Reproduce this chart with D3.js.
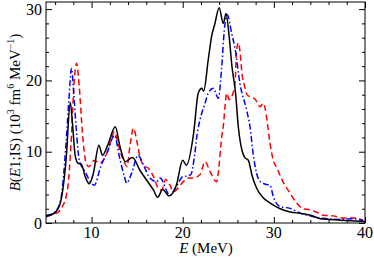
<!DOCTYPE html>
<html><head><meta charset="utf-8">
<script src="https://cdn.jsdelivr.net/npm/d3@7/dist/d3.min.js"></script>
<style>body{margin:0;background:#fff}svg{display:block}</style>
</head><body><svg id="c" width="374" height="258" font-family="'Liberation Serif', 'Times New Roman', Times, serif"></svg>
<script>
const blackE=[5.0,6.1,6.65,7.2,7.67,7.9,8.2,8.5,8.9,9.3,9.75,10.2,10.8,11.2,11.8,12.6,13.1,13.7,14.5,15.3,16.05,16.8,17.25,17.8,18.5,19.3,20.0,20.4,21.2,21.7,22.1,22.3,22.8,23.2,23.5,24.0,24.45,24.75,25.1,25.4,25.8,26.1,26.5,26.8,27.2,27.6,28.1,28.85,29.6,30.7,31.8,32.9,34.0,35.1,37.3,40.0];
const blackB=[0.9,1.6,3.2,8.8,16.9,14.0,9.5,8.4,8.2,6.5,5.5,7.0,10.9,9.5,11.0,13.5,10.8,8.6,9.2,7.4,6.0,4.6,3.6,4.7,3.8,5.3,8.8,8.1,12.6,18.2,18.9,18.5,22.9,26.4,27.8,30.2,28.0,29.4,26.1,22.0,18.2,13.5,10.2,9.2,8.8,6.7,4.9,3.5,2.8,2.0,1.55,1.35,1.1,0.6,0.4,0.2];
const blueE=[5.0,6.1,6.65,7.2,7.5,7.8,8.0,8.3,8.65,9.2,10.3,11.0,11.8,12.5,13.1,13.6,13.85,14.4,15.1,15.7,16.4,17.15,17.5,18.6,19.3,20.0,20.5,20.9,21.3,21.6,21.9,22.45,22.8,23.36,23.9,24.28,24.56,24.89,25.37,25.74,26.29,27.02,27.38,27.75,28.1,28.5,29.2,29.58,29.94,30.67,31.77,32.87,33.97,35.4,37.26,38.7,39.8];
const blueB=[1.0,1.7,3.5,11.2,17.0,21.7,19.0,13.5,8.8,7.4,5.3,7.9,10.2,12.3,9.0,6.5,5.6,7.0,9.5,8.1,6.3,5.8,6.3,3.9,5.1,6.5,6.6,6.8,9.5,12.6,14.5,16.8,18.2,18.9,17.5,21.9,27.0,29.2,26.6,24.5,19.5,15.8,13.5,9.5,7.0,5.8,5.4,5.3,3.7,2.3,2.05,1.4,1.0,0.65,0.5,0.6,0.35];
const redE=[5.0,6.1,6.8,7.4,7.75,8.1,8.35,8.65,9.0,9.4,9.7,10.3,10.85,11.6,12.1,12.5,12.9,13.1,13.5,13.9,14.2,14.6,14.95,15.3,15.7,16.2,16.8,17.3,17.7,18.13,18.6,18.97,19.5,20.06,20.6,21.16,21.9,22.45,23.0,23.73,23.9,24.28,24.45,24.64,24.83,25.1,25.37,25.74,25.92,26.12,26.29,26.5,26.83,27.05,27.38,27.93,28.48,28.84,29.14,29.39,29.58,29.94,30.31,31.04,31.77,32.5,33.23,33.97,34.7,35.43,36.52,37.62,39.09,39.78];
const redB=[1.1,1.35,2.3,5.1,11.2,20.0,22.4,19.1,12.6,8.4,7.9,8.8,8.4,9.5,11.4,12.8,11.2,10.2,8.8,7.9,10.7,13.3,11.6,9.3,8.1,7.7,6.5,4.9,4.6,6.1,5.3,4.4,4.9,5.8,6.3,6.3,6.8,8.6,7.2,5.8,7.0,12.1,13.5,16.3,18.2,17.3,17.7,19.6,24.3,25.3,24.0,21.0,19.0,18.0,17.7,17.4,16.3,16.8,15.4,13.0,11.2,8.8,7.8,5.7,4.2,2.8,2.0,1.85,1.5,1.1,1.0,0.7,0.7,0.35];
const xMajor=[10,20,30,40];
const yMajor=[0,10,20,30];

const FF="'Liberation Serif', 'Times New Roman', Times, serif";
const svg=d3.select("#c");
const L=46,R=365,T=2,Bt=223;
const x=d3.scaleLinear().domain([5,40]).range([L,R]);
const y=d3.scaleLinear().domain([0,31]).range([Bt,T]);

svg.append("clipPath").attr("id","pc").append("rect").attr("x",L).attr("y",T).attr("width",R-L).attr("height",Bt-T);

const series=[
 {E:blackE,B:blackB,color:"#000",dash:null},
 {E:blueE,B:blueB,color:"#0000ff",dash:"6,2.5,1.5,2.5"},
 {E:redE,B:redB,color:"#ff0000",dash:"6,3.5"}
];
const line=d3.line().x(d=>x(d[0])).y(d=>y(d[1])).curve(d3.curveMonotoneX);
const g=svg.append("g").attr("clip-path","url(#pc)");
[series[2],series[1],series[0]].forEach(s=>{
  g.append("path").datum(s.E.map((e,i)=>[e,s.B[i]]))
   .attr("d",line).attr("fill","none").attr("stroke",s.color)
   .attr("stroke-width",1.5).attr("stroke-dasharray",s.dash);
});

const xMinor=d3.range(6,40,2).filter(v=>!xMajor.includes(v));
const yMinor=d3.range(2,31,2).filter(v=>!yMajor.includes(v));
function ax(gen,scale,maj,min,tx){
  const a=svg.append("g").attr("transform",tx);
  a.call(gen(scale).tickValues(maj).tickSize(-6).tickFormat(""));
  a.select(".domain").remove();
  const b=svg.append("g").attr("transform",tx);
  b.call(gen(scale).tickValues(min).tickSize(-3).tickFormat(""));
  b.select(".domain").remove();
  svg.selectAll("g.tick line").attr("stroke","#000").attr("stroke-width",1);
}
ax(d3.axisBottom,x,xMajor,xMinor,`translate(0,${Bt})`);
ax(d3.axisTop,x,xMajor,xMinor,`translate(0,${T})`);
ax(d3.axisLeft,y,yMajor,yMinor,`translate(${L},0)`);
ax(d3.axisRight,y,yMajor,yMinor,`translate(${R},0)`);

svg.append("rect").attr("x",L).attr("y",T).attr("width",R-L).attr("height",Bt-T)
  .attr("fill","none").attr("stroke","#000").attr("stroke-width",1);

svg.append("g").selectAll("text").data(xMajor).join("text")
  .attr("font-family",FF).attr("fill","#000")
  .attr("x",d=>x(d)).attr("y",238).attr("text-anchor","middle").attr("font-size",16).text(d=>d);
svg.append("g").selectAll("text").data(yMajor).join("text")
  .attr("font-family",FF).attr("fill","#000")
  .attr("x",42).attr("y",d=>y(d)+5.5).attr("text-anchor","end").attr("font-size",16).text(d=>d);

const xl=svg.append("text").attr("font-family",FF).attr("x",206).attr("y",253).attr("text-anchor","middle").attr("font-size",15);
xl.append("tspan").attr("font-style","italic").text("E");
xl.append("tspan").text(" (MeV)");

const yl=svg.append("text").attr("font-family",FF).attr("transform",`translate(20,${(T+Bt)/2}) rotate(-90)`)
  .attr("text-anchor","middle").attr("font-size",15);
yl.append("tspan").attr("font-style","italic").text("B");
yl.append("tspan").text("(");
yl.append("tspan").attr("font-style","italic").text("E");
yl.append("tspan").text("1;IS) (10");
yl.append("tspan").attr("font-size",10).attr("dy",-6).text("3");
yl.append("tspan").attr("dy",6).text(" fm");
yl.append("tspan").attr("font-size",10).attr("dy",-6).text("6");
yl.append("tspan").attr("dy",6).text(" MeV");
yl.append("tspan").attr("font-size",10).attr("dy",-6).text("−1");
yl.append("tspan").attr("dy",6).text(")");
</script></body></html>
